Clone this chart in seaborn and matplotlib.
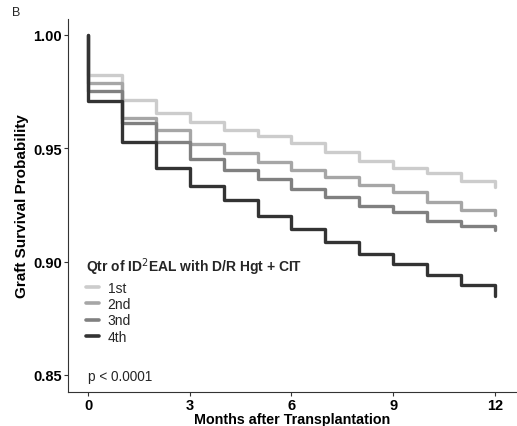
import numpy as np
import pandas as pd
import seaborn as sns
import matplotlib.pyplot as plt

# monthly KM estimates (month 0..11 level, then end value at 12)
months = list(range(0, 13))
q1 = [0.9825, 0.9714, 0.9656, 0.9617, 0.9581, 0.9556, 0.9522, 0.9485, 0.9445, 0.9411, 0.9389, 0.9357, 0.9331]
q2 = [0.9788, 0.9632, 0.9582, 0.9519, 0.9479, 0.9441, 0.9405, 0.9372, 0.9338, 0.9305, 0.9261, 0.9229, 0.9205]
q3 = [0.9754, 0.9611, 0.9526, 0.9453, 0.9404, 0.9364, 0.9320, 0.9283, 0.9246, 0.9217, 0.9180, 0.9155, 0.9139]
q4 = [0.9707, 0.9526, 0.9413, 0.9335, 0.9270, 0.9200, 0.9145, 0.9087, 0.9033, 0.8989, 0.8941, 0.8897, 0.8847]
groups = ["1st", "2nd", "3nd", "4th"]
colors = ["#cccccc", "#a6a6a6", "#808080", "#333333"]

# long format table, each curve starts at 1.0 at time 0
rows = []
for g, vals in zip(groups, [q1, q2, q3, q4]):
    rows.append((g, 0, 1.0))
    for t, v in zip(months, vals):
        rows.append((g, t, v))
df = pd.DataFrame(rows, columns=["group", "month", "surv"])

sns.set_style("white")
plt.rcParams["font.family"] = ["Liberation Sans", "DejaVu Sans"]
fig, ax = plt.subplots(figsize=(5.17, 4.27), dpi=100)
fig.subplots_adjust(left=68/517, right=1.0, top=1-20/427, bottom=1-393/427)

sns.lineplot(data=df, x="month", y="surv", hue="group", palette=colors,
             estimator=None, sort=False, drawstyle="steps-post", linewidth=2.4, ax=ax)

ax.set_xlim(-0.59, 12.65)
ax.set_ylim(0.8425, 1.007)
ax.set_xticks([0, 3, 6, 9, 12])
ax.set_yticks([0.85, 0.90, 0.95, 1.00])
ax.set_yticklabels(["0.85", "0.90", "0.95", "1.00"])
for lab in ax.get_xticklabels() + ax.get_yticklabels():
    lab.set_fontweight("bold")
    lab.set_color("black")
ax.tick_params(axis="both", labelsize=10.5, length=3, width=0.8, color="#333333", pad=1.5,
               bottom=True, left=True)
sns.despine(ax=ax)
for s in ["left", "bottom"]:
    ax.spines[s].set_color("#333333")
    ax.spines[s].set_linewidth(0.8)

ax.set_xlabel("Months after Transplantation", fontsize=10.3, fontweight="bold", labelpad=0, color="black")
ax.set_ylabel("Graft Survival Probability", fontsize=11, fontweight="bold", labelpad=3, color="black")

handles, labels = ax.get_legend_handles_labels()
leg = ax.legend(handles, labels, title="Qtr of ID$^2$EAL with D/R Hgt + CIT",
                title_fontproperties={"weight": "bold", "size": 10},
                frameon=False, fontsize=10, loc="upper left",
                bbox_to_anchor=(86/517, 1-256/427), bbox_transform=fig.transFigure,
                handlelength=0.95, handletextpad=0.6, labelspacing=0.17,
                borderaxespad=0, borderpad=0)
leg._legend_box.align = "left"
leg._legend_box.sep = 3
for line in leg.get_lines():
    line.set_linewidth(2.6)

ax.text(0, 0.8495, "p < 0.0001", fontsize=9.8, ha="left", va="center")
fig.text(12/517, 1-13/427, "B", fontsize=9, ha="left", va="center")

fig.savefig("out.png", dpi=100)
